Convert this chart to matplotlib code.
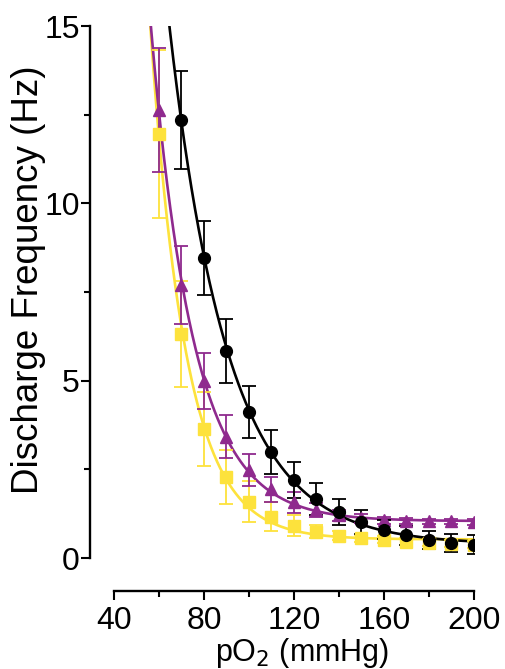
import numpy as np
import matplotlib
matplotlib.use('Agg')
import matplotlib.pyplot as plt
from matplotlib.ticker import MultipleLocator

plt.rcParams['font.family'] = ['Liberation Sans', 'DejaVu Sans']

# values
po2_black = [70, 80, 90, 100, 110, 120, 130, 140, 150, 160, 170, 180, 190, 200]
hz_black = [12.35, 8.46, 5.84, 4.12, 2.99, 2.20, 1.67, 1.29, 1.01, 0.80, 0.64, 0.51, 0.43, 0.38]
err_black = [1.37, 1.05, 0.90, 0.73, 0.62, 0.50, 0.45, 0.37, 0.33, 0.27, 0.27, 0.26, 0.26, 0.26]

po2_other = [60, 70, 80, 90, 100, 110, 120, 130, 140, 150, 160, 170, 180, 190, 200]
hz_purple = [12.63, 7.70, 4.99, 3.42, 2.48, 1.94, 1.57, 1.36, 1.20, 1.12, 1.06, 1.04, 1.03, 1.03, 1.02]
err_purple = [1.74, 1.10, 0.80, 0.60, 0.45, 0.35, 0.30, 0.20, 0.15, 0.12, 0.10, 0.08, 0.08, 0.08, 0.08]
hz_yellow = [11.95, 6.31, 3.64, 2.28, 1.59, 1.17, 0.91, 0.74, 0.63, 0.56, 0.51, 0.46, 0.43, 0.40, 0.38]
err_yellow = [2.37, 1.50, 1.04, 0.77, 0.57, 0.40, 0.30, 0.18, 0.12, 0.10, 0.10, 0.10, 0.10, 0.10, 0.10]

YELLOW = '#FDE23C'
PURPLE = '#8F2A8E'
BLACK = '#000000'


def fit_exp(x, y):
    # y = a*exp(-k*x) + c, scan k and solve a, c by least squares
    x = np.asarray(x, float)
    y = np.asarray(y, float)
    best = None
    for k in np.linspace(0.005, 0.15, 3000):
        M = np.column_stack([np.exp(-k * x), np.ones_like(x)])
        coef, res, _, _ = np.linalg.lstsq(M, y, rcond=None)
        sse = np.sum((M @ coef - y) ** 2)
        if best is None or sse < best[0]:
            best = (sse, k, coef)
    _, k, (a, c) = best
    return lambda t: a * np.exp(-k * t) + c


fig = plt.figure(figsize=(5.05, 6.69), dpi=100)
ax = fig.add_axes([0.2257, 0.1659, 0.7129, 0.7952])

series = [
    (po2_other, hz_yellow, err_yellow, YELLOW, 's', 8.5),
    (po2_other, hz_purple, err_purple, PURPLE, '^', 8.5),
    (po2_black, hz_black, err_black, BLACK, 'o', 8.5),
]

xx = np.linspace(40, 200, 800)
for x, y, e, col, mk, ms in series:
    f = fit_exp(x, y)
    ax.plot(xx, f(xx), color=col, lw=1.9, zorder=2)
    ax.errorbar(x, y, yerr=e, fmt=mk, color=col, ms=ms, elinewidth=1.3,
                capsize=4.8, capthick=1.3, zorder=3)

ax.set_xlim(40, 200)
ax.set_ylim(0, 15)

for s in ['top', 'right']:
    ax.spines[s].set_visible(False)
ax.spines['left'].set_position(('outward', 17))
ax.spines['bottom'].set_position(('outward', 24))
ax.spines['left'].set_bounds(0, 15)
ax.spines['bottom'].set_bounds(40, 200)
for s in ['left', 'bottom']:
    ax.spines[s].set_linewidth(1.7)

ax.xaxis.set_major_locator(MultipleLocator(40))
ax.xaxis.set_minor_locator(MultipleLocator(20))
ax.yaxis.set_major_locator(MultipleLocator(5))
ax.yaxis.set_minor_locator(MultipleLocator(2.5))
ax.tick_params(which='major', direction='out', length=6.5, width=1.5, labelsize=23)
ax.tick_params(which='minor', direction='out', length=4.5, width=1.5)
ax.tick_params(axis='y', pad=1)
ax.tick_params(axis='x', pad=4)

ax.set_xlabel('pO$_2$ (mmHg)', fontsize=22)
ax.set_ylabel('Discharge Frequency (Hz)', fontsize=26.5)
ax.xaxis.set_label_coords(0.522, -0.146)
ax.yaxis.set_label_coords(-0.188, 0.5226)

fig.savefig('out.png', dpi=100)
